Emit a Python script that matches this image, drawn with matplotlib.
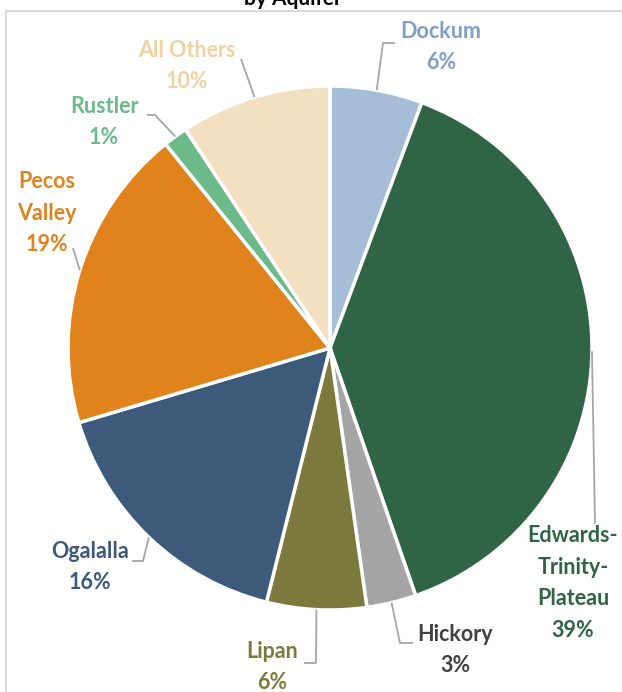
import numpy as np
import matplotlib.pyplot as plt
from matplotlib.patches import Rectangle

W, H = 622, 692  # canvas in pixels

# data
aquifers = ["Dockum", "Edwards-\nTrinity-\nPlateau", "Hickory", "Lipan",
            "Ogalalla", "Pecos\nValley", "Rustler", "All Others"]
shares = [5.7, 39.0, 3.05, 6.15, 16.5, 18.8, 1.5, 9.3]
pct_labels = ["6%", "39%", "3%", "6%", "16%", "19%", "1%", "10%"]

slice_colors = ["#A6BDD7", "#306446", "#A5A5A5", "#7B7A3C",
                "#3D5A7A", "#E0831D", "#6CB98A", "#F2E0C1"]
text_colors = ["#7F9FC6", "#306446", "#404040", "#7B7A3C",
               "#3D5A7A", "#E0831D", "#6CB98A", "#F0D3A2"]

# layout (pixel coords, y from top)
center_px = (330, 348)
radius_px = 262
label_pos = [(441, 47), (573, 583), (455, 650), (272, 667),
             (90, 567), (47, 213), (104, 122), (187, 66)]
leader_knees = [[(383, 43), (395, 43)],
                [(595, 524)],
                [(400, 643), (413, 643)],
                [(316, 663), (304, 663)],
                [(143, 561), (132, 561)],
                [(73, 248)],
                [(155, 115), (147, 115)],
                [(241, 59)]]

plt.rcParams['font.family'] = ['Lato', 'DejaVu Sans']

fig = plt.figure(figsize=(W / 100, H / 100), dpi=100)
ax = fig.add_axes([0, 0, 1, 1])

cx, cy = center_px[0], H - center_px[1]
wedges, _ = ax.pie(shares, colors=slice_colors, startangle=90, counterclock=False,
                   center=(cx, cy), radius=radius_px,
                   wedgeprops=dict(edgecolor='white', linewidth=2.5))

ax.set_xlim(0, W)
ax.set_ylim(0, H)
ax.set_aspect('auto')
ax.axis('off')

# chart frame
ax.add_patch(Rectangle((6, -20), W + 40, H - 11 + 20, fill=False,
                       edgecolor='#D9D9D9', linewidth=1.5, clip_on=False))

# title, cut off by the top of the image as in the source
ax.text(293, H - 5, "by Aquifer", ha='center', va='baseline',
        fontsize=15, fontweight='bold', color='black')

for w, name, pct, tc, pos, knees in zip(wedges, aquifers, pct_labels,
                                         text_colors, label_pos, leader_knees):
    mid = np.deg2rad((w.theta1 + w.theta2) / 2)
    ex = cx + radius_px * np.cos(mid)
    ey = cy + radius_px * np.sin(mid)
    xs = [ex] + [k[0] for k in knees]
    ys = [ey] + [H - k[1] for k in knees]
    ax.plot(xs, ys, color='#A6A6A6', linewidth=1.3, solid_capstyle='butt')
    ax.text(pos[0], H - pos[1], name + "\n" + pct, ha='center', va='center',
            fontsize=15.5, fontweight='bold', color=tc, linespacing=1.62)

fig.savefig("out.png", dpi=100, facecolor='white')
